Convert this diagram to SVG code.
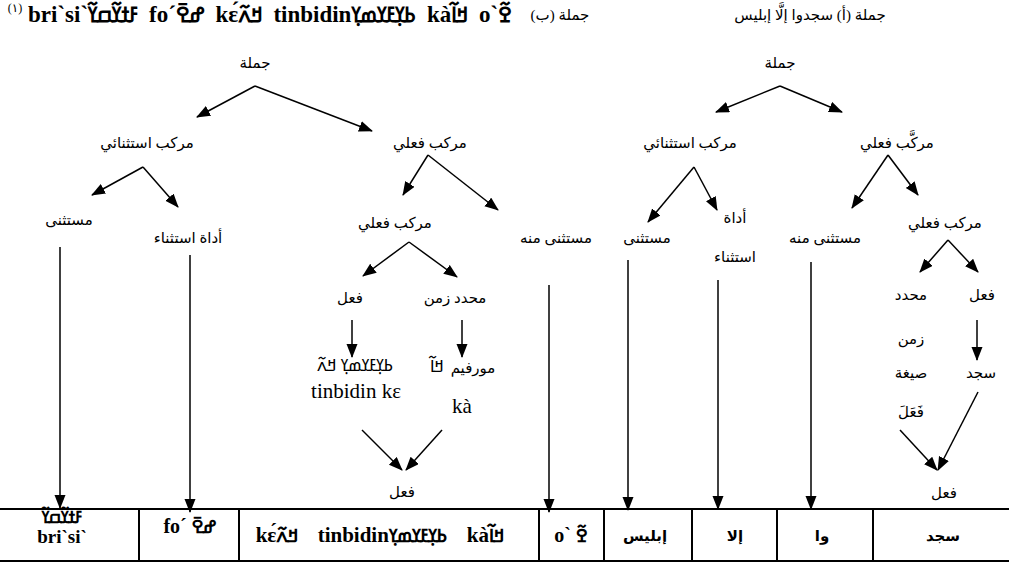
<svg xmlns="http://www.w3.org/2000/svg" width="1009" height="564" viewBox="0 0 1009 564">
<style>
.ar{font-family:"Liberation Serif","DejaVu Sans",serif;font-size:15px;fill:#000;text-anchor:middle}
.arb{font-family:"Liberation Serif","DejaVu Sans",serif;font-size:15px;font-weight:bold;fill:#000;text-anchor:middle}
.lt{font-family:"Liberation Serif",serif;font-size:21px;fill:#000}
.ltb{font-family:"Liberation Serif",serif;font-weight:bold;fill:#000}
.nk{font-family:"Noto Sans NKo","DejaVu Sans",sans-serif;font-size:17px;fill:#000}
.nkb{font-family:"Noto Sans NKo","DejaVu Sans",sans-serif;font-weight:bold;fill:#000}
.c{stroke:#000;stroke-width:1.5;fill:none;marker-end:url(#ah)}
.t{stroke:#000;stroke-width:2;fill:none}
</style>
<defs>
<marker id="ah" markerUnits="userSpaceOnUse" markerWidth="14" markerHeight="12" refX="13" refY="5.5" orient="auto">
<path d="M0,0 L14,5.5 L0,11 z" fill="#000"/>
</marker>
</defs>
<rect width="1009" height="564" fill="#fff"/>

<g id="title">
<text x="15" y="12" style="font-family:'Liberation Serif','DejaVu Sans',serif;font-size:12px" text-anchor="middle">(١)</text>
<text x="28" y="22" class="ltb" style="font-size:23px;word-spacing:5px"><tspan>bri`si`</tspan><tspan class="nkb" style="font-size:21px">ߓߙߌ߬ߛߌ߬</tspan> <tspan>fo´</tspan><tspan class="nkb" style="font-size:21px">ߝߐ߫</tspan> <tspan>kɛ́</tspan><tspan class="nkb" style="font-size:21px">ߞߍ߬</tspan> <tspan>tinbidin</tspan><tspan class="nkb" style="font-size:21px">ߕߌ߲ߓߌߘߌ߲</tspan> <tspan>kà</tspan><tspan class="nkb" style="font-size:21px">ߞߊ߬</tspan> <tspan>o`</tspan><tspan class="nkb" style="font-size:21px">ߐ߬</tspan></text>
<text class="ar" x="560" y="20">جملة (ب)</text>
<text class="ar" x="810" y="20">جملة (أ) سجدوا إلَّا إبليس</text>
</g>

<g id="left-jumla"><text class="ar" x="255" y="68">جملة</text></g>
<g id="left-murakkab-istithnai"><text class="ar" x="147" y="148">مركب استثنائي</text></g>
<g id="left-murakkab-fili"><text class="ar" x="430" y="148">مركب فعلي</text></g>
<g id="left-mustathna"><text class="ar" x="69" y="225">مستثنى</text></g>
<g id="left-adat"><text class="ar" x="188" y="243">أداة استثناء</text></g>
<g id="left-murakkab-fili-2"><text class="ar" x="395" y="228">مركب فعلي</text></g>
<g id="left-mustathna-minhu"><text class="ar" x="556" y="243">مستثنى منه</text></g>
<g id="left-fil"><text class="ar" x="350" y="303">فعل</text></g>
<g id="left-muhaddid"><text class="ar" x="455" y="303">محدد زمن</text></g>
<g id="left-tinbidin">
<text class="nk" x="355" y="371" text-anchor="middle">ߕߌ߲ߓߌߘߌ߲ ߞߍ߬</text>
<text class="lt" x="356" y="398" text-anchor="middle">tinbidin kɛ</text>
</g>
<g id="left-morpheme">
<text class="nk" x="437" y="372" text-anchor="middle">ߞߊ߬</text>
<text class="ar" x="473" y="373">مورفيم</text>
<text class="lt" x="462" y="413" text-anchor="middle">kà</text>
</g>
<g id="left-fil-result"><text class="ar" x="402" y="497">فعل</text></g>

<g id="right-jumla"><text class="ar" x="780" y="68">جملة</text></g>
<g id="right-murakkab-istithnai"><text class="ar" x="690" y="148">مركب استثنائي</text></g>
<g id="right-murakkab-fili"><text class="ar" x="897" y="148">مركَّب فعلي</text></g>
<g id="right-adat"><text class="ar" x="735" y="223">أداة</text><text class="ar" x="735" y="262">استثناء</text></g>
<g id="right-mustathna"><text class="ar" x="647" y="243">مستثنى</text></g>
<g id="right-mustathna-minhu"><text class="ar" x="825" y="243">مستثنى منه</text></g>
<g id="right-murakkab-fili-2"><text class="ar" x="945" y="228">مركب فعلي</text></g>
<g id="right-muhaddid">
<text class="ar" x="911" y="300">محدد</text>
<text class="ar" x="911" y="344">زمن</text>
<text class="ar" x="911" y="378">صيغة</text>
<text class="ar" x="911" y="417">فَعَلَ</text>
</g>
<g id="right-fil"><text class="ar" x="982" y="300">فعل</text></g>
<g id="right-sajada"><text class="ar" x="981" y="378">سجد</text></g>
<g id="right-fil-result"><text class="ar" x="944" y="498">فعل</text></g>

<g id="connectors">
<line class="c" x1="255" y1="86" x2="197" y2="117"/>
<line class="c" x1="255" y1="86" x2="372" y2="131"/>
<line class="c" x1="143" y1="167" x2="92" y2="195"/>
<line class="c" x1="143" y1="167" x2="178" y2="207"/>
<line class="c" x1="428" y1="155" x2="403" y2="195"/>
<line class="c" x1="428" y1="155" x2="498" y2="210"/>
<line class="c" x1="409" y1="242" x2="363" y2="276"/>
<line class="c" x1="409" y1="242" x2="457" y2="277"/>
<line class="c" x1="352" y1="320" x2="352" y2="357"/>
<line class="c" x1="462" y1="320" x2="462" y2="357"/>
<line class="c" x1="362" y1="430" x2="402" y2="470"/>
<line class="c" x1="442" y1="430" x2="406" y2="470"/>
<line class="c" x1="60" y1="247" x2="60" y2="508"/>
<line class="c" x1="190" y1="255" x2="190" y2="512"/>
<line class="c" x1="549" y1="285" x2="549" y2="512"/>
<line class="c" x1="780" y1="86" x2="716" y2="112"/>
<line class="c" x1="780" y1="86" x2="842" y2="112"/>
<line class="c" x1="694" y1="167" x2="648" y2="222"/>
<line class="c" x1="694" y1="167" x2="717" y2="210"/>
<line class="c" x1="888" y1="155" x2="852" y2="208"/>
<line class="c" x1="888" y1="155" x2="918" y2="195"/>
<line class="c" x1="948" y1="240" x2="920" y2="272"/>
<line class="c" x1="948" y1="240" x2="978" y2="272"/>
<line class="c" x1="977" y1="320" x2="977" y2="360"/>
<line class="c" x1="900" y1="430" x2="937" y2="470"/>
<line class="c" x1="978" y1="392" x2="938" y2="470"/>
<line class="c" x1="628" y1="260" x2="628" y2="510"/>
<line class="c" x1="718" y1="280" x2="718" y2="509"/>
<line class="c" x1="811" y1="262" x2="811" y2="509"/>
</g>

<g id="table">
<line class="t" x1="0" y1="509" x2="1009" y2="509"/>
<line class="t" x1="0" y1="561" x2="1009" y2="561"/>
<line class="t" x1="139" y1="509" x2="139" y2="561"/>
<line class="t" x1="239" y1="509" x2="239" y2="561"/>
<line class="t" x1="539" y1="509" x2="539" y2="561"/>
<line class="t" x1="604" y1="509" x2="604" y2="561"/>
<line class="t" x1="692" y1="509" x2="692" y2="561"/>
<line class="t" x1="777" y1="509" x2="777" y2="561"/>
<line class="t" x1="873" y1="509" x2="873" y2="561"/>
<text class="nkb" x="62" y="523" text-anchor="middle" style="font-size:17px">ߓߙߌ߬ߛߌ߬</text>
<text class="ltb" x="62" y="543" text-anchor="middle" style="font-size:19px">bri`si`</text>
<text class="ltb" x="190" y="533" text-anchor="middle" style="font-size:20px"><tspan>fo´</tspan> <tspan class="nkb" style="font-size:18px">ߝߐ߫</tspan></text>
<text class="ltb" x="380" y="542" text-anchor="middle" style="font-size:21px;word-spacing:14px"><tspan>kɛ́</tspan><tspan class="nkb" style="font-size:19px">ߞߍ߬</tspan> <tspan>tinbidin</tspan><tspan class="nkb" style="font-size:19px">ߕߌ߲ߓߌߘߌ߲</tspan> <tspan>kà</tspan><tspan class="nkb" style="font-size:19px">ߞߊ߬</tspan></text>
<text class="ltb" x="571" y="542" text-anchor="middle" style="font-size:20px"><tspan>o`</tspan> <tspan class="nkb" style="font-size:18px">ߐ߬</tspan></text>
<text class="arb" x="645" y="541">إبليس</text>
<text class="arb" x="735" y="541">إلا</text>
<text class="arb" x="822" y="541">وا</text>
<text class="arb" x="943" y="541">سجد</text>
</g>
</svg>
